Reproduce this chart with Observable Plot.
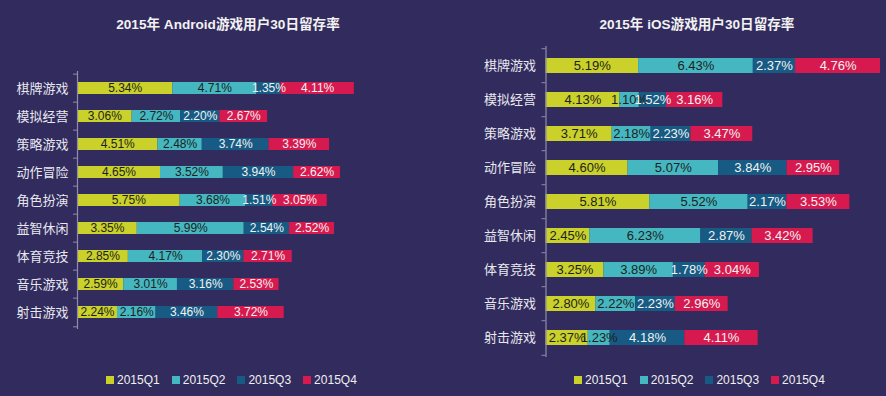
<!DOCTYPE html>
<html>
<head>
<meta charset="utf-8">
<script src="https://cdn.jsdelivr.net/npm/d3@7"></script>
<script src="https://cdn.jsdelivr.net/npm/@observablehq/plot@0.6"></script>
<style>
  html, body { margin: 0; padding: 0; background: #322b5e; overflow: hidden; }
  #root { position: relative; width: 886px; height: 396px; background: #322b5e;
    font-family: "Liberation Sans", Arial, "Noto Sans CJK SC", sans-serif; color: #eeeef2; }
  .title { position: absolute; top: 13px; width: 400px; text-align: center; font-weight: bold; font-size: 13.6px; color: #f2f2f2; }
  .panel { position: absolute; top: 0; }
  .legend { position: absolute; top: 373px; display: flex; gap: 12px; font-size: 12px; color: #f0f0f0; }
  .legend .item { display: flex; align-items: center; }
  .legend .sw { width: 8px; height: 8px; margin-right: 3px; display: inline-block; }
</style>
</head>
<body>
<div id="root"></div>
<script>
const quarters = ["2015Q1", "2015Q2", "2015Q3", "2015Q4"];
const colors = ["#c9d12a", "#45b7c1", "#175a84", "#d61a4f"];
const textColors = ["#1e1e1e", "#1e1e1e", "#f2f2f2", "#f2f2f2"];

const categories = ["棋牌游戏", "模拟经营", "策略游戏", "动作冒险", "角色扮演", "益智休闲", "体育竞技", "音乐游戏", "射击游戏"];

const androidQ1 = [5.34, 3.06, 4.51, 4.65, 5.75, 3.35, 2.85, 2.59, 2.24];
const androidQ2 = [4.71, 2.72, 2.48, 3.52, 3.68, 5.99, 4.17, 3.01, 2.16];
const androidQ3 = [1.35, 2.20, 3.74, 3.94, 1.51, 2.54, 2.30, 3.16, 3.46];
const androidQ4 = [4.11, 2.67, 3.39, 2.62, 3.05, 2.52, 2.71, 2.53, 3.72];

const iosQ1 = [5.19, 4.13, 3.71, 4.60, 5.81, 2.45, 3.25, 2.80, 2.37];
const iosQ2 = [6.43, 1.10, 2.18, 5.07, 5.52, 6.23, 3.89, 2.22, 1.23];
const iosQ3 = [2.37, 1.52, 2.23, 3.84, 2.17, 2.87, 1.78, 2.23, 4.18];
const iosQ4 = [4.76, 3.16, 3.47, 2.95, 3.53, 3.42, 3.04, 2.96, 4.11];

const titles = ["2015年 Android游戏用户30日留存率", "2015年 iOS游戏用户30日留存率"];

function buildRows(series) {
  const rows = [];
  categories.forEach((c, i) => {
    series.forEach((s, qi) => rows.push({cat: c, q: quarters[qi], qi, value: s[i]}));
  });
  return rows;
}

const root = document.getElementById("root");
const axisColor = "#8f8ca8";

function makePanel(cfg) {
  const rows = buildRows(cfg.series);
  const n = categories.length;
  const step = (cfg.height - cfg.mt - cfg.mb) / n;
  const plot = Plot.plot({
    width: cfg.width,
    height: cfg.height,
    marginTop: cfg.mt,
    marginBottom: cfg.mb,
    marginLeft: cfg.ml,
    marginRight: cfg.mr,
    style: {background: "transparent", fontFamily: "'Liberation Sans', Arial, 'Noto Sans CJK SC', sans-serif", overflow: "visible"},
    x: {domain: [0, cfg.xmax], axis: null},
    y: {domain: categories, paddingInner: cfg.pad, paddingOuter: cfg.pad / 2, axis: null},
    color: {domain: quarters, range: colors},
    marks: [
      Plot.barX(rows, {x: "value", y: "cat", fill: "q"}),
      Plot.text(rows, Plot.stackX({x: "value", y: "cat", z: "q",
        text: d => d.value.toFixed(2) + "%",
        fill: d => textColors[d.qi], fontSize: cfg.valueFont})),
      Plot.ruleX([0], {stroke: axisColor, strokeWidth: 1.2}),
      Plot.axisY({tickSize: 0, tickPadding: cfg.labelPad, fontSize: cfg.labelFont, fill: "#e8e8ef", label: null}),
      Plot.axisY(categories, {tickSize: 4, text: null, dy: -step / 2, stroke: axisColor, label: null}),
      Plot.axisY([categories[n - 1]], {tickSize: 4, text: null, dy: step / 2, stroke: axisColor, label: null})
    ]
  });
  const panel = document.createElement("div");
  panel.className = "panel";
  panel.style.left = cfg.left + "px";
  panel.style.width = cfg.width + "px";
  panel.appendChild(plot);
  root.appendChild(panel);

  const t = document.createElement("div");
  t.className = "title";
  t.style.left = (cfg.titleCenter - 200) + "px";
  t.textContent = cfg.title;
  root.appendChild(t);

  const lg = document.createElement("div");
  lg.className = "legend";
  lg.style.left = cfg.legendLeft + "px";
  quarters.forEach((q, i) => {
    const it = document.createElement("div");
    it.className = "item";
    const sw = document.createElement("span");
    sw.className = "sw";
    sw.style.background = colors[i];
    it.appendChild(sw);
    it.appendChild(document.createTextNode(q));
    lg.appendChild(it);
  });
  root.appendChild(lg);
}

makePanel({series: [androidQ1, androidQ2, androidQ3, androidQ4], title: titles[0],
  left: 0, width: 443, height: 360, mt: 71, mb: 31, ml: 77, mr: 9, xmax: 20, pad: 0.58,
  valueFont: 12, labelFont: 13, labelPad: 9, titleCenter: 228, legendLeft: 106});

makePanel({series: [iosQ1, iosQ2, iosQ3, iosQ4], title: titles[1],
  left: 443, width: 443, height: 370, mt: 46, mb: 13, ml: 102.5, mr: 1.5, xmax: 19, pad: 0.57,
  valueFont: 13, labelFont: 13, labelPad: 10, titleCenter: 697, legendLeft: 574});
</script>
</body>
</html>
